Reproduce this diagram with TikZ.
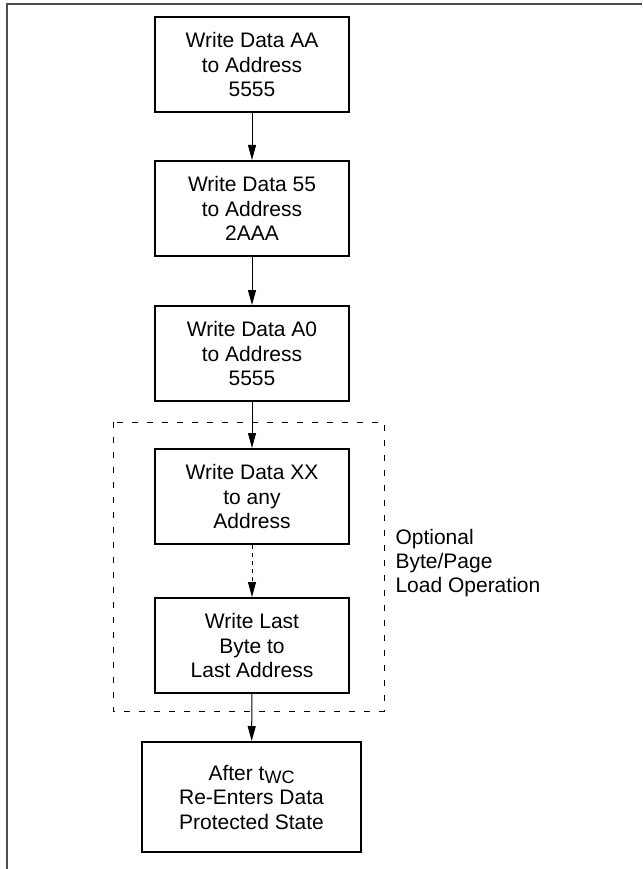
\documentclass[tikz,border=0pt]{standalone}
\usepackage{fontspec}
\setmainfont{Liberation Sans}
\usetikzlibrary{arrows.meta}

\tikzset{
  stepbox/.style={draw, line width=2pt, minimum width=194pt, minimum height=95pt,
                  inner sep=0pt, align=center, font=\fontsize{21}{24.5}\selectfont},
  flow/.style={-{Triangle[length=15pt,width=8pt]}, line width=1pt},
}

\begin{document}
\begin{tikzpicture}[x=1pt, y=-1pt]
    \useasboundingbox (0,0) rectangle (642,869);

    % page frame, open at right and bottom
    \draw[black!70, line width=2pt] (7,869) -- (7,4) -- (642,4);

    % the three command writes
    \node[stepbox] (wraa) at (252, 64.5) {Write Data AA\\to Address\\5555};
    \node[stepbox] (wr55) at (252,208.5) {Write Data 55\\to Address\\2AAA};
    \node[stepbox] (wra0) at (252,353.5) {Write Data A0\\to Address\\5555};

    % optional load part
    \draw[dash pattern=on 6pt off 9pt, line width=1pt] (113,422) rectangle (384,711);
    \node[stepbox] (wrxx)   at (252,496.5) {Write Data XX\\to any\\Address};
    \node[stepbox] (wrlast) at (252,645.5) {Write Last\\Byte to\\Last Address};
    \node[anchor=west, align=left, font=\fontsize{21}{24}\selectfont] (optlbl) at (392,563)
        {Optional\\Byte/Page\\Load Operation};

    % end state
    \node[stepbox, minimum width=219pt, minimum height=110pt] (done) at (251.5,797)
        {After t\raisebox{-0.35ex}{\fontsize{18}{18}\selectfont WC}\\Re-Enters Data\\Protected State};

    \draw[flow] (wraa) -- (wr55);
    \draw[flow] (wr55) -- (wra0);
    \draw[flow] (wra0) -- (wrxx);
    \draw[flow, dash pattern=on 4pt off 4pt] (wrxx) -- (wrlast);
    \draw[flow] (wrlast) -- (done);
\end{tikzpicture}
\end{document}
